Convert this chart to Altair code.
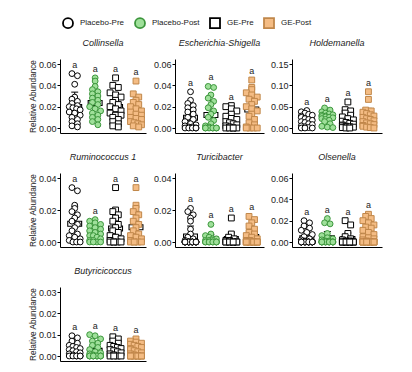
import altair as alt
import pandas as pd
import numpy as np

GROUPS = ["Placebo-Pre", "Placebo-Post", "GE-Pre", "GE-Post"]
TAXA = ["Collinsella", "Escherichia-Shigella", "Holdemanella",
        "Ruminococcus 1", "Turicibacter", "Olsenella", "Butyricicoccus"]
Y_MAX = [0.06, 0.06, 0.15, 0.04, 0.04, 0.06, 0.03]
Y_STEP = [0.02, 0.02, 0.05, 0.02, 0.02, 0.02, 0.01]

COL_PP = [0.051, 0.049, 0.041, 0.029, 0.027, 0.025, 0.023, 0.021, 0.020, 0.019, 0.018, 0.017, 0.015, 0.014, 0.012, 0.010, 0.008, 0.006, 0.004, 0.002, 0.001]
COL_PO = [0.047, 0.044, 0.039, 0.036, 0.034, 0.032, 0.030, 0.028, 0.026, 0.024, 0.022, 0.020, 0.018, 0.016, 0.014, 0.012, 0.010, 0.008, 0.006, 0.003]
COL_GP = [0.047, 0.040, 0.038, 0.033, 0.031, 0.029, 0.026, 0.024, 0.022, 0.020, 0.018, 0.016, 0.014, 0.012, 0.012, 0.010, 0.008, 0.006, 0.004, 0.002, 0.001]
COL_GO = [0.044, 0.032, 0.029, 0.026, 0.024, 0.022, 0.020, 0.018, 0.016, 0.015, 0.013, 0.012, 0.010, 0.009, 0.008, 0.006, 0.005, 0.004, 0.003, 0.002, 0.001]

ESC_PP = [0.034, 0.026, 0.023, 0.021, 0.019, 0.017, 0.015, 0.013, 0.010, 0.008, 0.006, 0.004, 0.003, 0.002, 0.001, 0.001, 0, 0, 0, 0, 0]
ESC_PO = [0.039, 0.038, 0.031, 0.028, 0.025, 0.022, 0.019, 0.016, 0.013, 0.010, 0.007, 0.004, 0.002, 0.001, 0, 0, 0, 0, 0, 0, 0]
ESC_GP = [0.021, 0.020, 0.018, 0.016, 0.013, 0.011, 0.009, 0.008, 0.006, 0.005, 0.004, 0.003, 0.002, 0.001, 0, 0, 0, 0, 0]
ESC_GO = [0.045, 0.038, 0.036, 0.033, 0.031, 0.029, 0.027, 0.025, 0.022, 0.020, 0.018, 0.016, 0.013, 0.011, 0.008, 0.005, 0.003, 0.001, 0, 0, 0, 0]

HOL_PP = [0.041, 0.038, 0.035, 0.032, 0.030, 0.028, 0.025, 0.022, 0.020, 0.018, 0.015, 0.013, 0.010, 0.008, 0.005, 0.003, 0.001, 0, 0, 0]
HOL_PO = [0.047, 0.042, 0.038, 0.035, 0.033, 0.031, 0.030, 0.028, 0.027, 0.026, 0.025, 0.024, 0.022, 0.020, 0.018, 0.015, 0.010, 0.004, 0.002, 0.001]
HOL_GP = [0.061, 0.043, 0.040, 0.035, 0.030, 0.026, 0.022, 0.019, 0.016, 0.013, 0.011, 0.009, 0.007, 0.005, 0.004, 0.003, 0.002, 0.001, 0, 0]
HOL_GO = [0.085, 0.067, 0.042, 0.040, 0.037, 0.034, 0.031, 0.028, 0.025, 0.022, 0.020, 0.017, 0.015, 0.012, 0.010, 0.008, 0.006, 0.004, 0.002, 0.001, 0]

RUM_PP = [0.034, 0.032, 0.023, 0.021, 0.019, 0.017, 0.015, 0.013, 0.011, 0.009, 0.007, 0.005, 0.004, 0.003, 0.002, 0.001, 0, 0, 0]
RUM_PO = [0.014, 0.013, 0.012, 0.011, 0.010, 0.009, 0.008, 0.007, 0.006, 0.005, 0.004, 0.004, 0.003, 0.002, 0.001, 0.001, 0, 0, 0, 0]
RUM_GP = [0.034, 0.020, 0.019, 0.017, 0.015, 0.013, 0.011, 0.009, 0.007, 0.006, 0.004, 0.003, 0.002, 0.001, 0, 0, 0, 0, 0]
RUM_GO = [0.034, 0.023, 0.021, 0.019, 0.017, 0.015, 0.013, 0.011, 0.009, 0.007, 0.005, 0.004, 0.003, 0.002, 0.001, 0, 0, 0, 0, 0]

TUR_PP = [0.021, 0.019, 0.017, 0.015, 0.013, 0.008, 0.005, 0.003, 0.002, 0.001, 0, 0, 0, 0, 0, 0, 0, 0, 0, 0, 0, 0, 0, 0, 0, 0, 0, 0, 0, 0]
TUR_PO = [0.011, 0.005, 0.004, 0.003, 0.002, 0.002, 0.001, 0.001, 0.001, 0, 0, 0, 0, 0, 0, 0, 0, 0]
TUR_GP = [0.015, 0.005, 0.003, 0.002, 0.001, 0.001, 0, 0, 0, 0, 0, 0, 0, 0, 0]
TUR_GO = [0.016, 0.014, 0.012, 0.010, 0.008, 0.006, 0.005, 0.004, 0.003, 0.002, 0.001, 0.001, 0, 0, 0, 0, 0, 0, 0, 0, 0, 0, 0, 0, 0, 0, 0]

OLS_PP = [0.020, 0.018, 0.015, 0.013, 0.011, 0.009, 0.007, 0.005, 0.003, 0.002, 0.001, 0, 0, 0, 0, 0, 0, 0, 0, 0, 0, 0, 0, 0, 0, 0, 0, 0, 0, 0]
OLS_PO = [0.022, 0.018, 0.017, 0.008, 0.006, 0.004, 0.003, 0.002, 0.001, 0.001, 0, 0, 0, 0, 0, 0, 0, 0, 0, 0, 0, 0, 0, 0]
OLS_GP = [0.020, 0.016, 0.008, 0.005, 0.003, 0.002, 0.001, 0.001, 0, 0, 0, 0, 0, 0, 0, 0, 0, 0, 0, 0]
OLS_GO = [0.026, 0.024, 0.022, 0.020, 0.018, 0.016, 0.014, 0.013, 0.011, 0.009, 0.007, 0.005, 0.004, 0.003, 0.002, 0.001, 0, 0, 0, 0, 0, 0, 0, 0, 0, 0, 0, 0, 0, 0, 0, 0]

BUT_PP = [0.0095, 0.0085, 0.007, 0.006, 0.005, 0.0045, 0.004, 0.0035, 0.003, 0.0025, 0.002, 0.0015, 0.001, 0.0005, 0, 0, 0, 0, 0, 0]
BUT_PO = [0.010, 0.0095, 0.008, 0.007, 0.006, 0.005, 0.004, 0.003, 0.002, 0.0015, 0.001, 0.0005, 0, 0, 0, 0, 0, 0, 0, 0, 0, 0, 0, 0]
BUT_GP = [0.009, 0.008, 0.007, 0.006, 0.005, 0.0045, 0.004, 0.0035, 0.003, 0.0025, 0.002, 0.0015, 0.001, 0.0005, 0, 0, 0, 0]
BUT_GO = [0.008, 0.007, 0.0065, 0.006, 0.0055, 0.005, 0.0045, 0.004, 0.0035, 0.003, 0.0025, 0.002, 0.0015, 0.001, 0.0005, 0, 0, 0, 0, 0, 0, 0, 0, 0, 0, 0]

DATA = {
    "Collinsella": [COL_PP, COL_PO, COL_GP, COL_GO],
    "Escherichia-Shigella": [ESC_PP, ESC_PO, ESC_GP, ESC_GO],
    "Holdemanella": [HOL_PP, HOL_PO, HOL_GP, HOL_GO],
    "Ruminococcus 1": [RUM_PP, RUM_PO, RUM_GP, RUM_GO],
    "Turicibacter": [TUR_PP, TUR_PO, TUR_GP, TUR_GO],
    "Olsenella": [OLS_PP, OLS_PO, OLS_GP, OLS_GO],
    "Butyricicoccus": [BUT_PP, BUT_PO, BUT_GP, BUT_GO],
}

FILLS = ["white", "#9fe09a", "white", "#f4bc84"]
STROKES = ["black", "#3c963c", "black", "#c0874a"]
SHAPES = ["circle", "circle", "square", "square"]

PX_PER_UNIT = 20.5
PLOT_H = 74
COL_XDOM = [[-0.72, 3.49], [-0.76, 3.6], [-0.72, 3.66]]
FONT = "Liberation Sans"


def swarm(vals, ymax):
    vals = np.asarray(vals, dtype=float)
    rows = np.round(vals / ymax * PLOT_H / 5.5).astype(int)
    off = np.zeros(len(vals))
    for r in np.unique(rows):
        idx = np.where(rows == r)[0]
        k = len(idx)
        m = min(k, 4)
        w = min((m - 1) * 5.5, 11.0)
        pos = np.linspace(-w / 2, w / 2, m) / PX_PER_UNIT if m > 1 else np.array([0.0])
        for j, i in enumerate(idx):
            off[i] = pos[j % m]
    return off


legend = alt.Legend(title=None, orient="none", direction="horizontal",
                    legendX=2, legendY=-42, symbolSize=100,
                    symbolStrokeColor="black", symbolStrokeWidth=1.8,
                    labelFontSize=8, labelFont=FONT, labelColor="#222",
                    labelOffset=6, columnPadding=6)


def panel(ti, col, show_ytitle):
    name = TAXA[ti]
    ymax = Y_MAX[ti]
    step = Y_STEP[ti]
    xdom = COL_XDOM[col]
    width = round((xdom[1] - xdom[0]) * PX_PER_UNIT)
    rows = []
    for gi, (g, vals) in enumerate(zip(GROUPS, DATA[name])):
        offs = swarm(vals, ymax)
        for v, o in zip(vals, offs):
            rows.append({"group": g, "gi": gi, "xp": gi + o, "value": v})
    df = pd.DataFrame(rows)
    summ = df.groupby(["group", "gi"], sort=False)["value"].agg(["mean", "std", "max"]).reset_index()
    summ["lo"] = summ["gi"] - 0.34
    summ["hi"] = summ["gi"] + 0.34
    summ["top"] = summ["mean"] + summ["std"]
    summ["cl"] = summ["gi"] - 0.17
    summ["cr"] = summ["gi"] + 0.17
    summ["lab"] = "a"

    ticks = [round(i * step, 4) for i in range(int(round(ymax / step)) + 1)]
    xs = alt.Scale(domain=xdom, nice=False, zero=False)
    ys = alt.Scale(domain=[0, ymax], nice=False, zero=True)
    xaxis = alt.Axis(title=None, labels=False, ticks=False, grid=False, domain=True)
    yaxis = alt.Axis(title="Relative Abundance" if show_ytitle else None, values=ticks,
                     format=".2f", grid=False)

    def X(f):
        return alt.X(f, scale=xs, axis=xaxis)

    def Y(f):
        return alt.Y(f, scale=ys, axis=yaxis)

    bs = alt.Chart(summ)
    bars = bs.mark_bar(fill="white", stroke="black", strokeWidth=1.1).encode(
        x=X("lo:Q"), x2="hi:Q", y=Y("mean:Q"))
    err = bs.mark_rule(color="black", strokeWidth=1).encode(
        x=X("gi:Q"), y=Y("mean:Q"), y2="top:Q")
    cap = bs.mark_rule(color="black", strokeWidth=1).encode(
        x=X("cl:Q"), x2="cr:Q", y=Y("top:Q"))
    pts = alt.Chart(df).mark_point(filled=True, size=34, strokeWidth=1, opacity=1).encode(
        x=X("xp:Q"), y=Y("value:Q"),
        fill=alt.Fill("group:N", scale=alt.Scale(domain=GROUPS, range=FILLS), legend=legend),
        shape=alt.Shape("group:N", scale=alt.Scale(domain=GROUPS, range=SHAPES), legend=legend),
        stroke=alt.Stroke("group:N", scale=alt.Scale(domain=GROUPS, range=STROKES), legend=None))
    txt = bs.mark_text(fontSize=9, font=FONT, baseline="bottom", dy=-4, color="#222").encode(
        x=X("gi:Q"), y=Y("max:Q"), text="lab:N")
    return alt.layer(bars, err, cap, pts, txt).properties(
        width=width, height=PLOT_H,
        title=alt.TitleParams(name, fontStyle="italic", fontSize=9, fontWeight="normal",
                              font=FONT, offset=11, anchor="middle", color="#222"))


row1 = alt.hconcat(panel(0, 0, True), panel(1, 1, False), panel(2, 2, False), spacing=6)
row2 = alt.hconcat(panel(3, 0, True), panel(4, 1, False), panel(5, 2, False), spacing=6)
row3 = alt.hconcat(panel(6, 0, True), spacing=6)

chart = alt.vconcat(row1, row2, row3, spacing=20).properties(
    padding={"left": 20, "top": 9, "right": 5, "bottom": 5}
).configure_view(stroke=None).configure_axis(
    labelFont=FONT, labelFontSize=9, labelColor="#222", labelPadding=1,
    tickSize=3, tickColor="black", domainColor="black", domainWidth=1, tickWidth=1,
    titleFont=FONT, titleFontSize=8.2, titleFontWeight="normal", titleColor="#222",
    titlePadding=1
)

chart.save("out.html", embed_options={"renderer": "svg", "actions": False})
